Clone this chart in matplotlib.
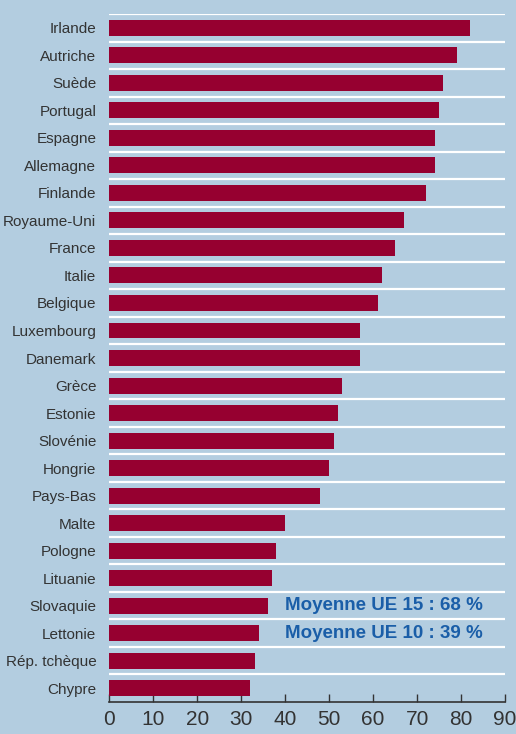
import numpy as np
import matplotlib.pyplot as plt

pays = ["Irlande", "Autriche", "Suède", "Portugal", "Espagne", "Allemagne",
        "Finlande", "Royaume-Uni", "France", "Italie", "Belgique",
        "Luxembourg", "Danemark", "Grèce", "Estonie", "Slovénie", "Hongrie",
        "Pays-Bas", "Malte", "Pologne", "Lituanie", "Slovaquie", "Lettonie",
        "Rép. tchèque", "Chypre"]
valeurs = [82, 79, 76, 75, 74, 74, 72, 67, 65, 62, 61, 57, 57, 53, 52, 51,
           50, 48, 40, 38, 37, 36, 34, 33, 32]
moyennes = ["Moyenne UE 15 : 68 %", "Moyenne UE 10 : 39 %"]
xticks = list(range(0, 100, 10))

plt.rcParams['font.family'] = ['Liberation Sans', 'DejaVu Sans']
fond = "#b3cde0"
bordeaux = "#960030"
gris = "#333333"

fig = plt.figure(figsize=(5.16, 7.34), dpi=100, facecolor=fond)
ax = fig.add_axes([0.2122, 0.0436, 0.7665, 0.9373], facecolor=fond)

y = np.arange(len(pays))
ax.barh(y, valeurs, height=0.58, color=bordeaux, zorder=3)

ax.set_ylim(len(pays) - 0.5, -0.5)
ax.set_xlim(0, 90)
ax.set_yticks(y)
ax.set_yticklabels(pays, fontsize=11, color=gris)
ax.set_yticks(np.arange(len(pays)) - 0.5, minor=True)
ax.grid(True, axis="y", which="minor", color="white", linewidth=1.6, zorder=1)
ax.tick_params(axis="y", which="both", length=0, pad=9.5)

ax.set_xticks(xticks)
ax.set_xticklabels([str(v) for v in xticks], fontsize=15, color=gris)
ax.tick_params(axis="x", direction="in", length=6, width=1, color=gris, pad=6)

for s in ["top", "right", "left"]:
    ax.spines[s].set_visible(False)
ax.spines["bottom"].set_color(gris)
ax.spines["bottom"].set_linewidth(1.2)

# moyennes sur les lignes Slovaquie / Lettonie
for i, txt in enumerate(moyennes):
    ax.text(40, pays.index("Slovaquie") + i, txt, color="#1a5ea8",
            fontsize=13.5, fontweight="bold", va="center", ha="left", zorder=4)

fig.savefig("out.png", dpi=100, facecolor=fond)
